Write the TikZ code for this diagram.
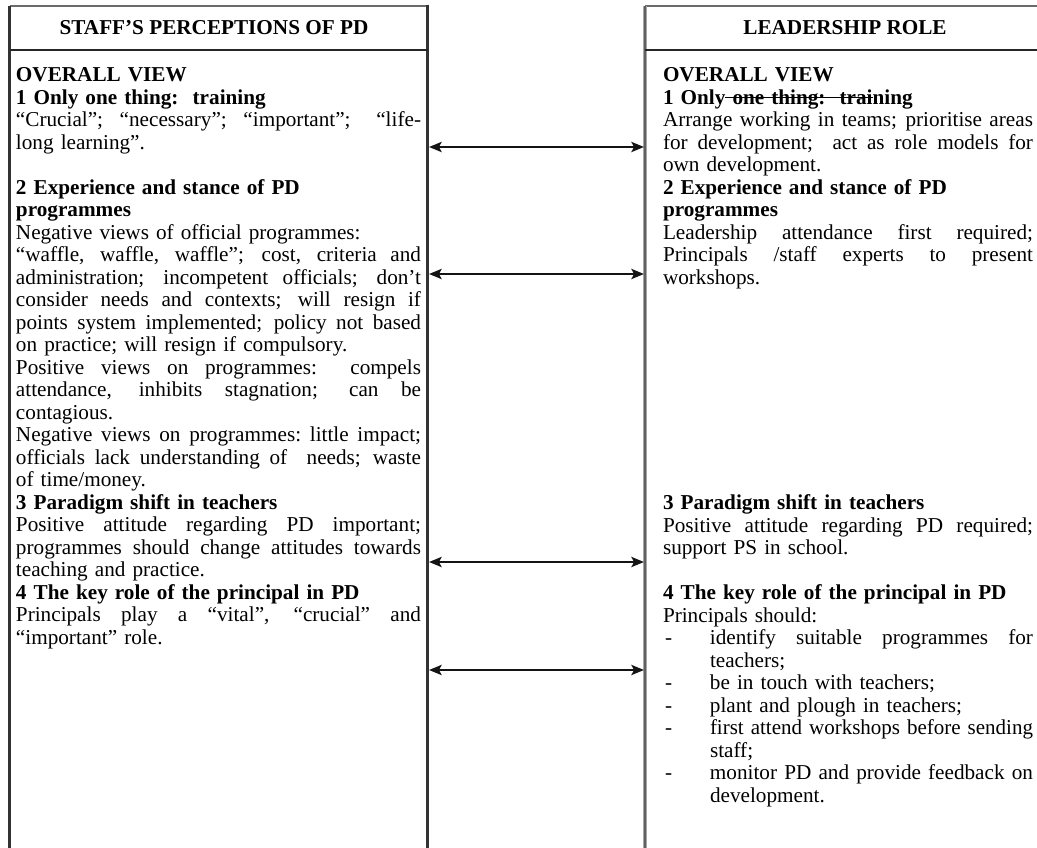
\documentclass[tikz,border=0pt]{standalone}
\usepackage{fontspec}
\setmainfont{Liberation Serif}
\usepackage{graphicx}
\usetikzlibrary{arrows.meta}

\newlength\jtmp
\newcommand\jl[2]{\leavevmode\settowidth\jtmp{#2}\ifdim\jtmp>#1\relax\resizebox{#1}{\height}{#2}\else\hbox to #1{\spaceskip=0.25em plus 20em\relax\xspaceskip=0.25em plus 20em\relax #2}\fi}
\newsavebox\strkbox
\newcommand\strk[1]{\sbox\strkbox{#1}\rlap{\rule[0.3em]{\wd\strkbox}{1.5pt}}\usebox\strkbox}
\newcommand\bodyfont{\fontsize{21.2}{22.5}\selectfont}
\newcommand\bul{\leavevmode\makebox[47pt][l]{\hspace{2pt}-}}
\newcommand\ind{\leavevmode\makebox[47pt]{}}

\tikzset{
  txt/.style={anchor=base west, inner sep=0pt, outer sep=0pt, align=left, text width=#1, font=\bodyfont},
  head/.style={inner sep=0pt, font=\bfseries\fontsize{21.2}{22}\selectfont},
  boxnode/.style={draw=none, inner sep=0pt, outer sep=0pt, anchor=north west},
  sideline/.style={line width=2.4pt, draw=black!80},
  topline/.style={line width=2pt, draw=black!58},
  sepline/.style={line width=2pt, draw=black!85},
  grayedge/.style={line width=4pt, draw=black!35},
  grayedgecore/.style={line width=1.6pt, draw=black!62},
  arr/.style={{Stealth[length=12.5pt,width=10pt,inset=2.5pt]}-{Stealth[length=12.5pt,width=10pt,inset=2.5pt]}, line width=2.6pt, draw=black!92},
}

\begin{document}
\begin{tikzpicture}[x=1pt,y=-1pt]
\useasboundingbox (0,0) rectangle (1037,848);
\fill[white] (0,0) rectangle (1037,848);

% boxes
\node[boxnode, minimum width=418pt, minimum height=880pt] (lbox) at (9.5,6) {};
\node[boxnode, minimum width=400pt, minimum height=880pt] (rbox) at (645,6) {};
\coordinate (hl) at (0,50);

\draw[topline] (lbox.north west) -- (lbox.north east);
\draw[sideline] (lbox.north west) -- (lbox.south west);
\draw[sideline] ([yshift=1pt]lbox.north east) -- (lbox.south east);
\draw[sepline] (lbox.west |- hl) -- (lbox.east |- hl);

\draw[topline] (rbox.north west) -- (rbox.north east);
\draw[grayedge] (rbox.north west) -- (rbox.south west);
\draw[grayedgecore] (rbox.north west) -- (rbox.south west);
\draw[sepline] (rbox.west |- hl) -- (rbox.east |- hl);

% headers
\node[head] (lhead) at (214,28) {STAFF’S PERCEPTIONS OF PD};
\node[head] (rhead) at (845,28) {LEADERSHIP ROLE};

% left column
\node[txt=405pt] (ltext) at (16,82) {%
\textbf{OVERALL VIEW}\\
\textbf{1 Only one thing:\ \ training}\\
\jl{405pt}{“Crucial”; “necessary”; “important”;\ \ “life-}\\
long learning”.\\[22.5pt]
\textbf{2 Experience and stance of PD}\\
\textbf{programmes}\\
Negative views of official programmes:\\
\jl{405pt}{“waffle, waffle, waffle”; cost, criteria and}\\
\jl{405pt}{administration; incompetent officials; don’t}\\
\jl{405pt}{consider needs and contexts; will resign if}\\
\jl{405pt}{points system implemented; policy not based}\\
on practice; will resign if compulsory.\\
\jl{405pt}{Positive views on programmes:\ \ compels}\\
\jl{405pt}{attendance, inhibits stagnation; can be}\\
contagious.\\
\jl{405pt}{Negative views on programmes: little impact;}\\
\jl{405pt}{officials lack understanding of\ \ needs; waste}\\
of time/money.\\
\textbf{3 Paradigm shift in teachers}\\
\jl{405pt}{Positive attitude regarding PD important;}\\
\jl{405pt}{programmes should change attitudes towards}\\
teaching and practice.\\
\textbf{4 The key role of the principal in PD}\\
\jl{405pt}{Principals play a “vital”, “crucial” and}\\
“important” role.};

% right column
\node[txt=370pt] (rtop) at (663,82) {%
\textbf{OVERALL VIEW}\\
\textbf{1 Only\strk{\ one thing:\ \ trai}ning}\\
\jl{370pt}{Arrange working in teams; prioritise areas}\\
\jl{370pt}{for development;\ \ act as role models for}\\
own development.\\
\textbf{2 Experience and stance of PD}\\
\textbf{programmes}\\
\jl{370pt}{Leadership attendance first required;}\\
\jl{370pt}{Principals /staff experts to present}\\
workshops.};

\node[txt=370pt] (rbot) at (663,509.5) {%
\textbf{3 Paradigm shift in teachers}\\
\jl{370pt}{Positive attitude regarding PD required;}\\
support PS in school.\\[22.5pt]
\textbf{4 The key role of the principal in PD}\\
Principals should:\\
\bul\jl{323pt}{identify suitable programmes for}\\
\ind teachers;\\
\bul be in touch with teachers;\\
\bul plant and plough in teachers;\\
\bul\jl{323pt}{first attend workshops before sending}\\
\ind staff;\\
\bul\jl{323pt}{monitor PD and provide feedback on}\\
\ind development.};

% connectors
\coordinate (y1) at (0,147);
\coordinate (y2) at (0,274);
\coordinate (y3) at (0,562);
\coordinate (y4) at (0,670);
\draw[arr] ([xshift=1.5pt]lbox.east |- y1) -- ([xshift=-1pt]rbox.west |- y1);
\draw[arr] ([xshift=1.5pt]lbox.east |- y2) -- ([xshift=-1pt]rbox.west |- y2);
\draw[arr] ([xshift=1.5pt]lbox.east |- y3) -- ([xshift=-1pt]rbox.west |- y3);
\draw[arr] ([xshift=1.5pt]lbox.east |- y4) -- ([xshift=-1pt]rbox.west |- y4);
\end{tikzpicture}
\end{document}
